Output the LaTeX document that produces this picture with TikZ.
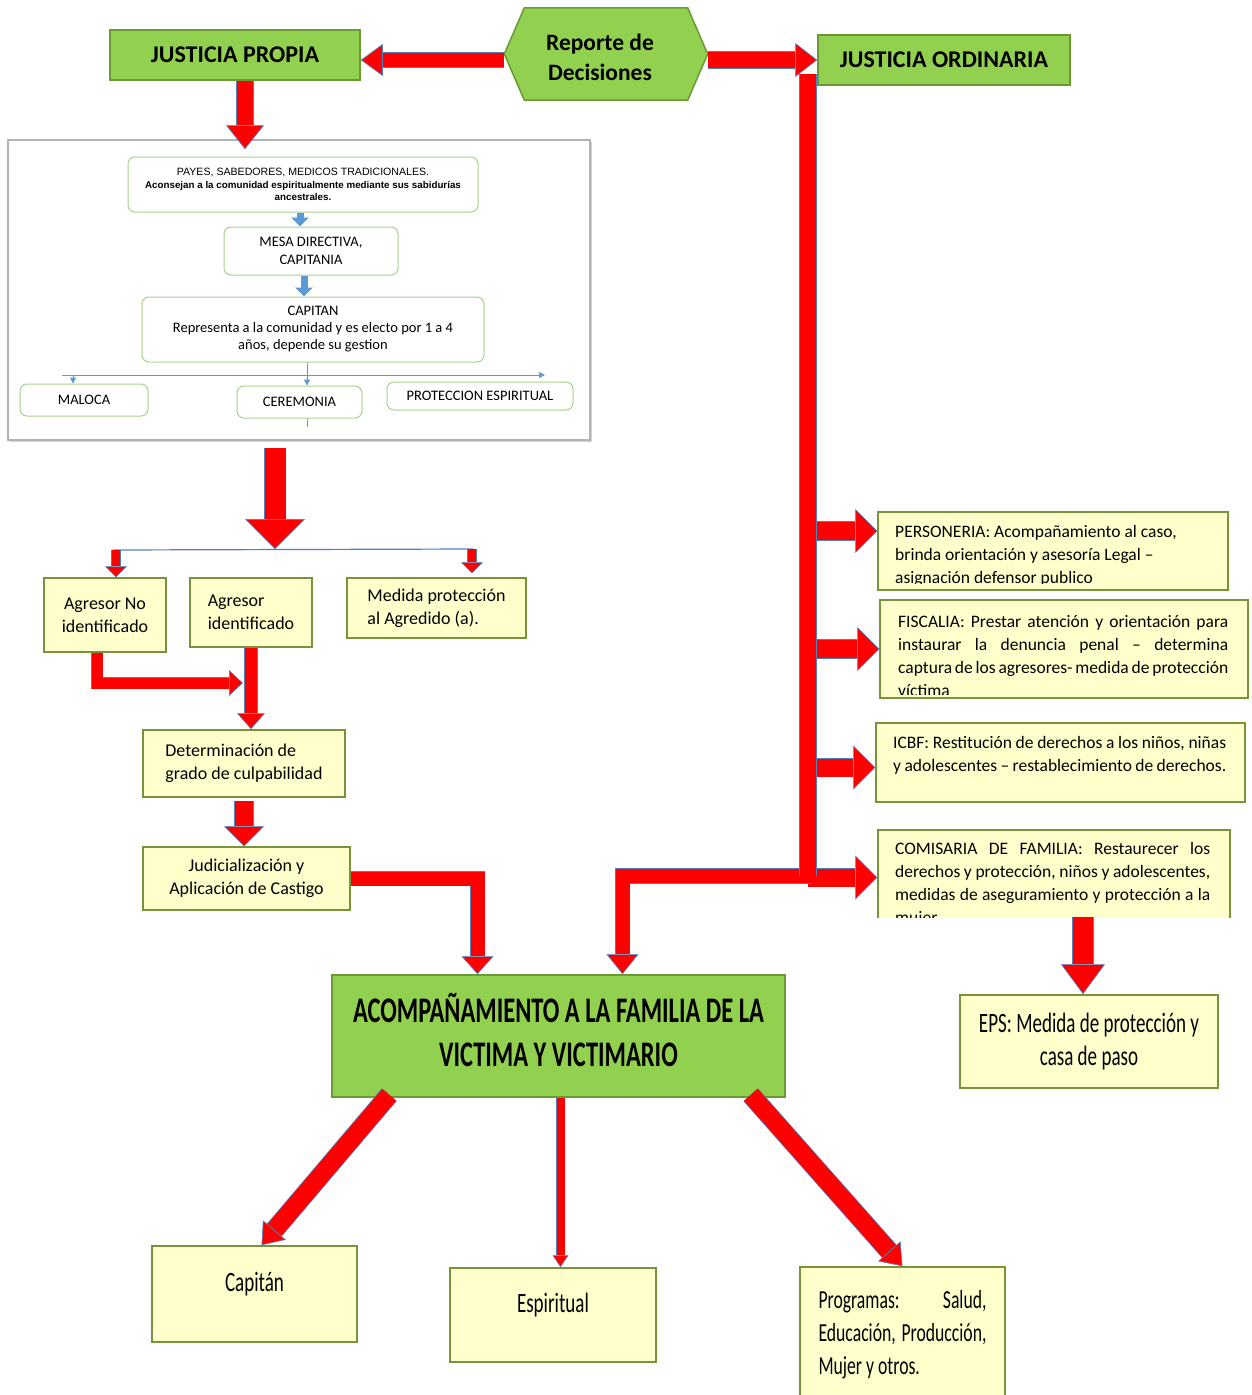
\documentclass[tikz,border=0pt]{standalone}
\usepackage{fontspec}
\setmainfont{Carlito}
\newfontfamily\narrowfont{Carlito}[FakeStretch=0.68]
\newfontfamily\arialfont{Liberation Sans}
\usepackage{xcolor}
\usetikzlibrary{positioning, arrows.meta, shadows}
\definecolor{jGreen}{HTML}{92D050}
\definecolor{jGreenDark}{HTML}{6A9A34}
\definecolor{jCream}{HTML}{FFFFCC}
\definecolor{jEdge}{HTML}{77933C}
\definecolor{arrRed}{HTML}{FF0000}
\definecolor{arrLine}{HTML}{4F81BD}
\definecolor{imgBlue}{HTML}{5B9BD5}
\definecolor{imgEdge}{HTML}{A9D18E}

\begin{document}
\begin{tikzpicture}[x=1pt, y=-1pt,
  gbox/.style={draw=jGreenDark, line width=1.5pt, fill=jGreen, inner sep=0pt,
               font=\bfseries\fontsize{24}{28}\selectfont},
  cbox/.style={draw=jEdge, line width=1.5pt, fill=jCream, inner sep=0pt,
               font=\fontsize{18}{23}\selectfont},
  nbox/.style={cbox, align=center, font=\narrowfont\fontsize{28}{33}\selectfont},
  ibox/.style={draw=imgEdge, line width=1pt, rounded corners=7pt, fill=white,
               inner sep=0pt, align=center, font=\fontsize{14.5}{17.5}\selectfont},
  txt/.style={anchor=north west, inner sep=0pt, align=left,
              font=\fontsize{17.5}{23}\selectfont},
  redarr/.style n args={3}{preaction={draw=arrLine, line width=#1+1.6pt, shorten >=#2, arrows=-},
              draw=arrRed, line width=#1,
              -{Triangle[length=#2, width=#3, line width=0.7pt, color=arrLine, fill=arrRed]}},
  redbar/.style={preaction={draw=arrLine, line width=#1+1.6pt}, draw=arrRed, line width=#1},
  bluearr/.style={draw=imgBlue, line width=7pt, -{Triangle[length=9pt, width=17pt]}},
  thinblue/.style={draw=imgBlue, line width=1pt},
]
\useasboundingbox (0,0) rectangle (1251,1395);

% cabecera
\node[gbox, minimum width=250pt, minimum height=50pt] (jp) at (235,55) {JUSTICIA PROPIA};
\node[inner sep=0pt, minimum width=203pt, minimum height=92pt] (rep) at (606,54) {};
\draw[draw=jGreenDark, line width=1.5pt, fill=jGreen]
  (rep.west) -- ([xshift=20pt]rep.north west) -- ([xshift=-20pt]rep.north east)
  -- (rep.east) -- ([xshift=-20pt]rep.south east) -- ([xshift=20pt]rep.south west) -- cycle;
\node[align=center, font=\bfseries\fontsize{23.5}{30}\selectfont] (repTxt)
  at ([xshift=-6pt,yshift=-3pt]rep.center) {Reporte de\\Decisiones};
\node[gbox, minimum width=252pt, minimum height=50pt] (jo) at (944,60) {JUSTICIA ORDINARIA};

\draw[redarr={14pt}{22pt}{32pt}] ([yshift=-6pt]rep.west) -- ([yshift=-6pt]rep.west -| jp.east);
\draw[redarr={16pt}{22pt}{34pt}] (rep.east |- jo.west) -- (jo.west);

% imagen de la estructura propia
\node[draw=black!30, line width=1.5pt, fill=white,
      drop shadow={shadow xshift=2pt, shadow yshift=-2pt, fill=black!35},
      minimum width=582pt, minimum height=300pt] (img) at (299,290) {};
\draw[redarr={16pt}{24pt}{38pt}] ([xshift=10pt]jp.south) -- ([xshift=10pt,yshift=-10pt]jp.south |- img.north);

\node[ibox, minimum width=350pt, minimum height=55pt,
      font=\arialfont\fontsize{10.6}{12.5}\selectfont] (payes) at (303,184.5)
      {PAYES, SABEDORES, MEDICOS TRADICIONALES.\\
       {\bfseries\fontsize{9.8}{12.5}\selectfont Aconsejan a la comunidad espiritualmente mediante sus sabidurías}\\
       {\bfseries\fontsize{9.8}{12.5}\selectfont ancestrales.}};
\node[ibox, minimum width=174pt, minimum height=48pt] (mesa) at (311,251) {MESA DIRECTIVA,\\CAPITANIA};
\node[ibox, minimum width=342pt, minimum height=65pt, font=\fontsize{14.5}{17}\selectfont] (capt) at (313,329.5)
      {CAPITAN\\Representa a la comunidad y es electo por 1 a 4\\años, depende su gestion};
\node[ibox, minimum width=128pt, minimum height=32pt] (maloca) at (84,400) {MALOCA};
\node[ibox, minimum width=125pt, minimum height=32pt] (cere) at (299.5,402) {CEREMONIA};
\node[ibox, minimum width=186pt, minimum height=28pt] (prot) at (480,396) {PROTECCION ESPIRITUAL};

\draw[bluearr] ([xshift=-3pt]payes.south) -- ([xshift=-3pt]payes.south |- mesa.north);
\draw[bluearr] ([xshift=-7pt]mesa.south) -- ([xshift=-7pt]mesa.south |- capt.north);
\coordinate (dTop) at (307,375);
\coordinate (dL) at (62,375);
\coordinate (dR) at (545,375);
\draw[thinblue] ([xshift=-6pt]capt.south) -- (dTop);
\draw[thinblue, -{Triangle[length=6pt, width=6pt]}] (dL) -- (dR);
\draw[thinblue, -{Triangle[length=6pt, width=6pt]}] ([xshift=11pt]dL) -- ([xshift=-11pt]maloca.north);
\draw[thinblue, -{Triangle[length=6pt, width=6pt]}] (dTop) -- ([xshift=7.5pt]cere.north);
\draw[thinblue] ([xshift=7.5pt]cere.south) -- ++(0,8);

% justicia propia
\coordinate (split) at (275,549);
\coordinate (brL) at (113,550);
\coordinate (brR) at (473,549);
\draw[redarr={21pt}{30pt}{60pt}] ([xshift=-24pt,yshift=-7pt]img.south) -- (split);
\draw[draw=arrLine, line width=1.2pt] (brL) -- (brR);

\node[cbox, align=center, minimum width=122pt, minimum height=74pt] (agno) at (105,615) {Agresor No\\identificado};
\node[cbox, align=left, minimum width=122pt, minimum height=69pt] (agid) at (251,612.5) {Agresor\\identificado};
\node[cbox, align=left, minimum width=179pt, minimum height=60pt] (medida) at (436.5,608) {Medida protección\\al Agredido (a).};
\node[cbox, align=left, minimum width=202pt, minimum height=67pt] (deter) at (244,763.5) {Determinación de\\grado de culpabilidad};
\node[cbox, align=center, minimum width=207pt, minimum height=63pt] (judic) at (246.5,878.5) {Judicialización y\\Aplicación de Castigo};

\draw[redarr={8pt}{11pt}{22pt}] ([xshift=3pt]brL) -- ([xshift=3pt]brL |- agno.north);
\draw[redarr={8pt}{11pt}{22pt}] ([xshift=-1pt]brR) -- ([xshift=-1pt,yshift=4pt]brR |- medida.north);
\coordinate (join) at (243,683);
\draw[redarr={11pt}{14pt}{26pt}] ([xshift=-8pt]agno.south) |- (join);
\draw[redarr={12pt}{16pt}{28pt}] (agid.south) -- (agid.south |- deter.north);
\draw[redarr={18pt}{20pt}{40pt}] ([yshift=-3pt]deter.south) -- (deter.south |- judic.north);

% acompanamiento
\node[gbox, minimum width=453pt, minimum height=122pt,
      font=\narrowfont\bfseries\fontsize{36}{44}\selectfont] (acomp) at (558.5,1036)
      {\raisebox{14pt}{\begin{tabular}{@{}c@{}}ACOMPAÑAMIENTO A LA FAMILIA DE LA\\VICTIMA Y VICTIMARIO\end{tabular}}};
\draw[redarr={14pt}{18pt}{32pt}] (judic.east) -| ([xshift=-81pt]acomp.north);

% justicia ordinaria
\coordinate (barTop) at (808,74);
\coordinate (barBot) at (808,876);

\node[cbox, minimum width=350pt, minimum height=78pt] (pers) at (1053,551) {};
\begin{scope}
  \clip (pers.north west) rectangle ([yshift=7pt]pers.south east);
  \node[txt] (persTxt) at (895,525)
    {PERSONERIA: Acompañamiento al caso,\\brinda orientación y asesoría Legal –\\asignación defensor publico};
\end{scope}

\node[cbox, minimum width=368pt, minimum height=98pt] (fisc) at (1064,649) {};
\begin{scope}
  \clip (fisc.north west) rectangle ([yshift=4pt]fisc.south east);
  \node[txt] (fiscTxt) at (898,615)
    {\makebox[330pt][s]{FISCALIA: Prestar atención y orientación para}\\
     \makebox[330pt][s]{instaurar la denuncia penal – determina}\\
     \makebox[330pt][s]{captura de los agresores- medida de protección}\\
     víctima};
\end{scope}

\node[cbox, minimum width=369pt, minimum height=79pt] (icbf) at (1060.5,762.5) {};
\node[txt] (icbfTxt) at (893,736)
  {\makebox[333pt][s]{ICBF: Restitución de derechos a los niños, niñas}\\
   \makebox[333pt][s]{y adolescentes – restablecimiento de derechos.}};

\begin{scope}
  \clip (860,820) rectangle (1245,917);
  \node[cbox, minimum width=352pt, minimum height=95pt] (comi) at (1054,877.5) {};
  \node[txt] (comiTxt) at (895,842)
    {\makebox[315pt][s]{COMISARIA DE FAMILIA: Restaurecer los}\\
     \makebox[315pt][s]{derechos y protección, niños y adolescentes,}\\
     \makebox[315pt][s]{medidas de aseguramiento y protección a la}\\
     mujer.};
\end{scope}

\draw[redarr={18pt}{22pt}{44pt}] ([yshift=20pt]barTop |- pers.west) -- ([yshift=20pt]pers.west);
\draw[redarr={18pt}{22pt}{44pt}] (barTop |- fisc.west) -- (fisc.west);
\draw[redarr={18pt}{22pt}{44pt}] ([yshift=-5pt]barTop |- icbf.west) -- ([yshift=-5pt]icbf.west);
\draw[redarr={18pt}{22pt}{44pt}] (barTop |- comi.west) -- (comi.west);
\draw[redarr={14pt}{20pt}{32pt}] ([xshift=4pt]barBot) -| ([xshift=64pt]acomp.north);
\draw[redbar=16pt] (barTop) -- (barBot);

\node[nbox, minimum width=258pt, minimum height=93pt] (eps) at (1089,1041.5) {EPS: Medida de protección y\\casa de paso};
\coordinate (comiCut) at (1083,917);
\draw[redarr={20pt}{30pt}{44pt}] (comiCut) -- (comiCut |- eps.north);

% ramas finales
\node[nbox, minimum width=205pt, minimum height=96pt] (capitan) at (254.5,1294) {\raisebox{24pt}{Capitán}};
\node[nbox, minimum width=206pt, minimum height=94pt] (espir) at (553,1315) {\raisebox{24pt}{Espiritual}};
\node[nbox, align=left, minimum width=205pt, minimum height=136pt,
      font=\narrowfont\fontsize{26}{33}\selectfont] (prog) at (902.5,1335)
  {\raisebox{17pt}{\parbox{168pt}{\makebox[168pt][s]{Programas: Salud,}\\
   \makebox[168pt][s]{Educación, Producción,}\\Mujer y otros.}}};

\draw[redarr={18pt}{20pt}{30pt}] ([xshift=58pt,yshift=3pt]acomp.south west) -- ([xshift=7pt]capitan.north);
\draw[redarr={8pt}{12pt}{16pt}] ([xshift=2pt]acomp.south) -- ([xshift=2pt]acomp.south |- espir.north);
\draw[redarr={18pt}{20pt}{30pt}] ([xshift=-35pt,yshift=3pt]acomp.south east) -- (prog.north);
\end{tikzpicture}
\end{document}
